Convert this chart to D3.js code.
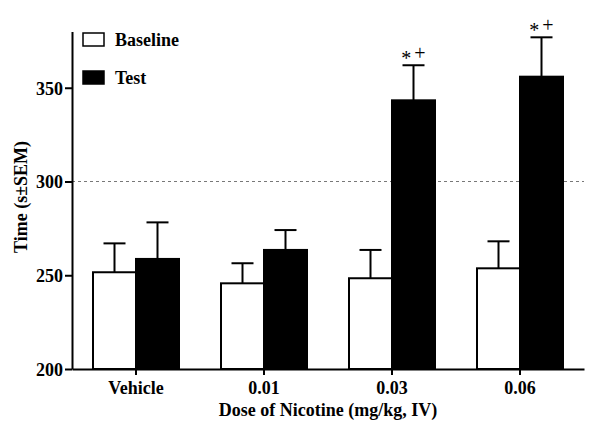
<!DOCTYPE html>
<html><head><meta charset="utf-8">
<script src="https://cdn.jsdelivr.net/npm/d3@7"></script>
<style>body{margin:0;background:#fff}svg{display:block}text{font-family:"Liberation Serif","Times New Roman",serif;font-weight:bold;fill:#000}</style>
</head><body><svg id="c" width="600" height="433"></svg>
<script>
const categories = ["Vehicle", "0.01", "0.03", "0.06"];
const seriesNames = ["Baseline", "Test"];
const baseline = [251.6, 245.7, 248.4, 253.7];
const baselineErr = [15.4, 10.7, 15.1, 14.4];
const test = [258.7, 263.5, 343.3, 355.9];
const testErr = [19.5, 10.6, 18.7, 21.0];
const annotations = ["", "", "*+", "*+"];
const yTicks = [200, 250, 300, 350];
const refLine = 300;

const svg = d3.select("#c");
const x = d3.scaleBand().domain(categories).range([72, 584]);
const inner = d3.scaleBand().domain(seriesNames).range([0, 86]);
const y = d3.scaleLinear().domain([200, 380]).range([369, 31.5]);
const barW = inner.bandwidth();

// dashed reference line
svg.append("line").attr("x1", 72).attr("x2", 584).attr("y1", y(refLine)).attr("y2", y(refLine))
  .attr("stroke", "#555").attr("stroke-width", 0.8).attr("stroke-dasharray", "3,3");

const data = [];
categories.forEach((c, i) => {
  data.push({c, s: "Baseline", v: baseline[i], e: baselineErr[i]});
  data.push({c, s: "Test", v: test[i], e: testErr[i]});
});
const off = d => x(d.c) + x.bandwidth() / 2 - 43 + inner(d.s);

// error bars
const g = svg.append("g");
data.forEach(d => {
  const cx = off(d) + barW / 2;
  g.append("line").attr("x1", cx).attr("x2", cx).attr("y1", y(d.v)).attr("y2", y(d.v + d.e)).attr("stroke", "#000").attr("stroke-width", 2);
  g.append("line").attr("x1", cx - 11).attr("x2", cx + 11).attr("y1", y(d.v + d.e)).attr("y2", y(d.v + d.e)).attr("stroke", "#000").attr("stroke-width", 2);
});
// bars
svg.append("g").selectAll("rect").data(data).join("rect")
  .attr("x", d => off(d)).attr("width", barW)
  .attr("y", d => y(d.v)).attr("height", d => y(200) - y(d.v))
  .attr("fill", d => d.s === "Test" ? "#000" : "#fff")
  .attr("stroke", "#000").attr("stroke-width", 2);

// annotations
categories.forEach((c, i) => {
  if (!annotations[i]) return;
  const cx = x(c) + x.bandwidth() / 2 + barW / 2;
  const t = svg.append("text").attr("x", cx).attr("y", y(test[i] + testErr[i]) - 5)
    .attr("text-anchor", "middle").style("font-size", "20px").style("font-weight", "normal");
  t.append("tspan").text("*").attr("dy", 5);
  t.append("tspan").text("+").attr("dx", 3).attr("dy", -5);
});

// axes
const ya = svg.append("g").attr("transform", "translate(72,0)")
  .call(d3.axisLeft(y).tickValues(yTicks).tickSize(7).tickPadding(2).tickSizeOuter(0));
ya.select(".domain").attr("stroke-width", 2);
ya.selectAll(".tick line").attr("stroke-width", 2);
ya.selectAll("text").style("font-size", "18px").style("font-family", "Liberation Serif").style("font-weight", "bold").attr("fill", "#000").attr("dy", "0.35em");

const xa = svg.append("g").attr("transform", "translate(0,369)")
  .call(d3.axisBottom(x).tickSize(6).tickSizeOuter(0).tickPadding(6));
xa.select(".domain").attr("stroke-width", 2);
xa.selectAll(".tick line").attr("stroke-width", 2);
xa.selectAll("text").style("font-size", "18px").style("font-family", "Liberation Serif").style("font-weight", "bold").attr("fill", "#000");

svg.append("text").attr("x", 328).attr("y", 416).attr("text-anchor", "middle").style("font-size", "18px").text("Dose of Nicotine (mg/kg, IV)");
svg.append("text").attr("transform", "translate(27,197) rotate(-90)").attr("text-anchor", "middle").style("font-size", "18px").text("Time (s\u00b1SEM)");

// legend
seriesNames.forEach((s, i) => {
  const ly = 33 + i * 38;
  svg.append("rect").attr("x", 83).attr("y", ly).attr("width", 21).attr("height", 13)
    .attr("fill", s === "Test" ? "#000" : "#fff").attr("stroke", "#000").attr("stroke-width", 1.5);
  svg.append("text").attr("x", 115).attr("y", ly + 13).style("font-size", "18px").text(s);
});
</script></body></html>
